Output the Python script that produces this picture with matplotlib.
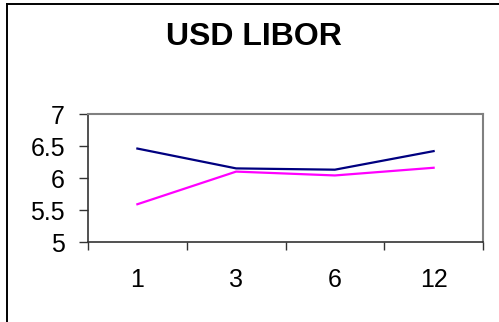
import matplotlib
matplotlib.use("Agg")
import matplotlib.pyplot as plt
from matplotlib.lines import Line2D

plt.rcParams['font.family'] = ['Liberation Sans', 'DejaVu Sans']

maturities = ["1", "3", "6", "12"]
series_a = [6.46, 6.15, 6.13, 6.42]   # navy
series_b = [5.59, 6.10, 6.04, 6.16]   # magenta
y_ticks = [5, 5.5, 6, 6.5, 7]
y_labels = ["5", "5.5", "6", "6.5", "7"]

W, H = 499, 322
fig = plt.figure(figsize=(W / 100, H / 100), dpi=100)

# outer chart border (only top and left visible)
fig.add_artist(Line2D([6.5 / W, 6.5 / W], [0, 1 - 3.5 / H], transform=fig.transFigure,
                      color="black", lw=1.4))
fig.add_artist(Line2D([6.5 / W, 1], [1 - 3.5 / H, 1 - 3.5 / H], transform=fig.transFigure,
                      color="black", lw=1.4))

ax = fig.add_axes([88 / W, 1 - 242 / H, (483 - 88) / W, (242 - 114) / H])
x = list(range(1, len(maturities) + 1))
ax.plot(x, series_a, color="#000080", lw=1.6, solid_joinstyle="miter")
ax.plot(x, series_b, color="#ff00ff", lw=1.6, solid_joinstyle="miter")

ax.set_xlim(0.5, len(maturities) + 0.5)
ax.set_ylim(5, 7)

ax.set_yticks(y_ticks)
ax.set_yticklabels(y_labels)
ax.tick_params(axis="y", length=6.5, width=1, color="#333333", pad=10, labelsize=18)

ax.set_xticks([i + 0.5 for i in range(0, len(maturities) + 1)])
ax.set_xticklabels([])
ax.tick_params(axis="x", which="major", length=6, width=1, color="#333333")
ax.set_xticks(x, minor=True)
ax.set_xticklabels(maturities, minor=True)
ax.tick_params(axis="x", which="minor", length=0, pad=19, labelsize=18)

for s in ["left", "bottom"]:
    ax.spines[s].set_color("#333333")
    ax.spines[s].set_linewidth(1.2)
for s in ["top", "right"]:
    ax.spines[s].set_color("#808080")
    ax.spines[s].set_linewidth(1.5)

fig.text(254 / W, 1 - 37 / H, "USD LIBOR", ha="center", va="center",
         fontsize=23, fontweight="bold")

fig.savefig("out.png", dpi=100)
